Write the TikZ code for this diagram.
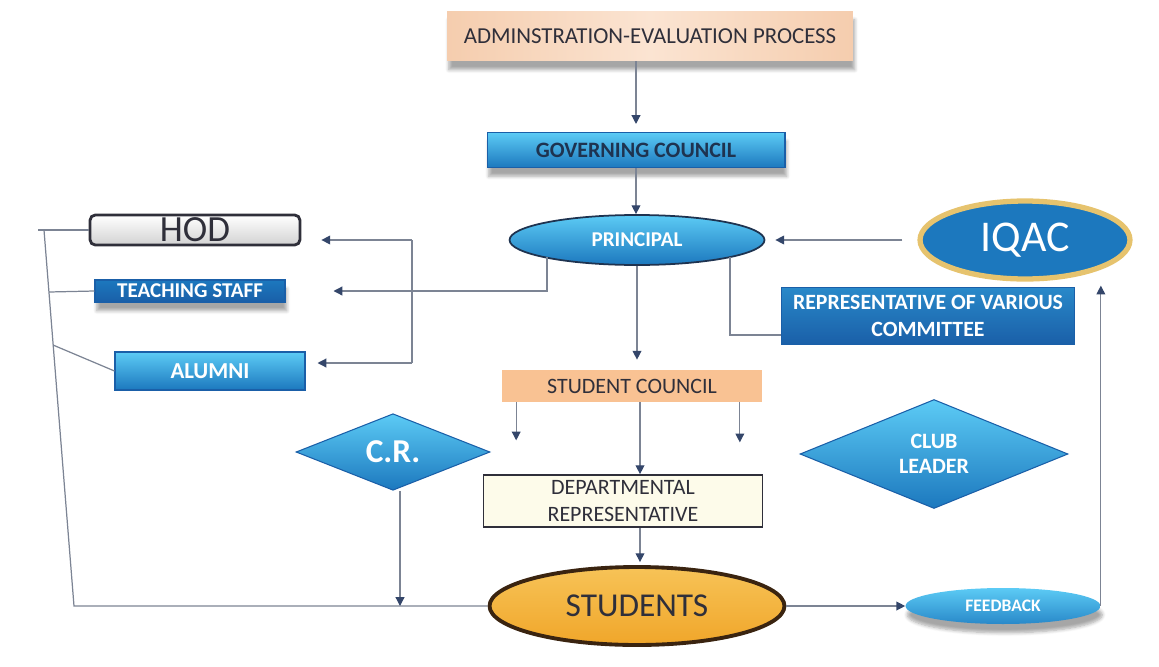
\documentclass[tikz,border=0pt]{standalone}
\usepackage{fontspec}
\setmainfont{Carlito}
\usetikzlibrary{shapes.geometric,arrows.meta,calc,shadows.blur}
\definecolor{peach}{HTML}{FBE4D2}
\definecolor{peachd}{HTML}{F5CDAE}
\definecolor{scorange}{HTML}{F9C293}
\definecolor{bluel}{HTML}{5CCBF5}
\definecolor{blued}{HTML}{1C78BE}
\definecolor{bluedd}{HTML}{1A5FA8}
\definecolor{navy}{HTML}{1E3350}
\definecolor{txtd}{HTML}{2F2F3A}
\definecolor{gold}{HTML}{E6C36E}
\definecolor{orng}{HTML}{F0A62A}
\definecolor{orngl}{HTML}{F7C357}
\definecolor{brownd}{HTML}{3A2410}
\definecolor{cream}{HTML}{FDFBEA}
\definecolor{linec}{HTML}{7C8494}
\definecolor{arrc}{HTML}{34466A}
\tikzset{
  x=0.02cm, y=-0.02cm,
  bshadow/.style={blur shadow={shadow xshift=1pt, shadow yshift=-5pt, shadow blur steps=6, shadow opacity=35}},
  bluebox/.style={rectangle, draw=bluedd, line width=0.6pt, top color=bluel, bottom color=blued, text=white, align=center, inner sep=1pt},
  blueell/.style={ellipse, draw=navy, line width=1pt, top color=bluel, bottom color=blued, text=white, inner sep=0pt},
  bluedia/.style={diamond, draw=bluedd, line width=0.6pt, top color=bluel, bottom color=blued, text=white, align=center, inner sep=0pt},
  conn/.style={draw=linec, line width=0.7pt},
  arr/.style={conn, -{Triangle[length=5pt,width=5pt,fill=arrc,color=arrc]}},
}
\begin{document}
\begin{tikzpicture}
\useasboundingbox (0,0) rectangle (1159,666);
% nodes
\node[rectangle, left color=peachd, right color=peachd, middle color=peach, bshadow, minimum width=8.12cm, minimum height=1.0cm, text=txtd, font=\fontsize{13}{15}\selectfont] (admin) at (650,36) {ADMINSTRATION-EVALUATION PROCESS};
\node[bluebox, bshadow, text=navy, minimum width=5.96cm, minimum height=0.7cm, font=\bfseries\fontsize{12.5}{14}\selectfont] (gov) at (636,150) {GOVERNING COUNCIL};
\node[blueell, minimum width=5.1cm, minimum height=1.0cm, font=\bfseries\fontsize{12}{13}\selectfont] (principal) at (637,240) {PRINCIPAL};
\node[ellipse, draw=gold, line width=3pt, fill=blued, text=white, minimum width=4.2cm, minimum height=1.56cm, font=\fontsize{25}{28}\selectfont] (iqac) at (1025,240) {IQAC};
\node[rectangle, rounded corners=3pt, draw=txtd, line width=1.6pt, top color=white, bottom color=gray!35, minimum width=4.2cm, minimum height=0.6cm, inner sep=0pt, text=txtd, font=\fontsize{21}{21}\selectfont] (hod) at (195,230) {HOD};
\node[bluebox, bshadow, top color=blued, bottom color=bluedd, minimum width=3.8cm, minimum height=0.44cm, font=\bfseries\fontsize{12}{13}\selectfont] (teach) at (190,291) {TEACHING STAFF};
\node[bluebox, minimum width=3.8cm, minimum height=0.76cm, font=\bfseries\fontsize{13}{14}\selectfont] (alumni) at (210,371) {ALUMNI};
\node[bluebox, top color=blued!80!bluel, bottom color=bluedd, minimum width=5.86cm, minimum height=1.14cm, font=\bfseries\fontsize{12.4}{15}\selectfont] (repr) at (928,316) {REPRESENTATIVE OF VARIOUS\\COMMITTEE};
\node[rectangle, fill=scorange, minimum width=5.22cm, minimum height=0.64cm, text=txtd, font=\fontsize{12.5}{14}\selectfont] (scouncil) at (632,386) {STUDENT COUNCIL};
\node[bluedia, minimum width=3.88cm, minimum height=1.34cm, font=\bfseries\fontsize{19}{20}\selectfont] (cr) at (393,452) {C.R.};
\node[bluedia, minimum width=5.36cm, minimum height=1.36cm, font=\bfseries\fontsize{12.5}{14}\selectfont] (club) at (934,454) {CLUB\\LEADER};
\node[rectangle, draw=txtd, line width=0.8pt, fill=cream, minimum width=5.58cm, minimum height=0.96cm, align=center, text=txtd, font=\fontsize{12.5}{15}\selectfont] (dept) at (623,501) {DEPARTMENTAL\\REPRESENTATIVE};
\node[ellipse, draw=brownd, line width=2.2pt, top color=orngl, bottom color=orng, minimum width=5.9cm, minimum height=1.56cm, text=txtd, font=\fontsize{19}{20}\selectfont] (students) at (637,606) {STUDENTS};
\node[ellipse, bshadow, top color=bluel, bottom color=blued!80!bluel, minimum width=3.9cm, minimum height=0.72cm, inner sep=0pt, text=white, font=\bfseries\fontsize{10}{11}\selectfont] (feedback) at (1003,606) {FEEDBACK};
% connectors
\draw[arr, shorten >=0.16cm] (gov.north |- admin.south) -- (gov.north);
\draw[arr] (gov.south) -- (gov.south |- principal.north);
\draw[arr, shorten <=0.3cm, shorten >=0.2cm] (iqac.west) -- (principal.east);
\draw[arr, shorten >=0.96cm] ($(principal.center)+(-90,17)$) |- (teach.east);
\coordinate (bt) at (412,240);
\coordinate (bb) at (412,363);
\draw[conn] (bt) -- (bb);
\draw[arr, shorten >=0.4cm] (bt) -- (bt -| hod.east);
\draw[arr, shorten >=0.24cm] (bb) -- (bb -| alumni.east);
\coordinate (lt) at (44,230);
\coordinate (lb) at (74,606);
\coordinate (lteach) at (49,292);
\coordinate (lalum) at (53,345);
\draw[conn] (38,230) -- (hod.west);
\draw[conn] (lt) -- (lb) -- (students.west);
\draw[conn] (lteach) -- (teach.west);
\draw[conn] (lalum) -- (alumni.west);
\draw[conn] ($(principal.center)+(93,17)$) |- ($(repr.south west)+(0,-10)$);
\draw[arr, shorten >=0.2cm] (principal.south) -- (principal.south |- scouncil.north);
\draw[arr] ($(scouncil.south west)+(15,0)$) -- ++(0,38);
\draw[arr] ($(scouncil.south east)+(-23,0)$) -- ++(0,40);
\draw[arr] (scouncil.south -| 640,0) -- (dept.north -| 640,0);
\draw[arr, shorten >=0.06cm] (dept.south -| 640,0) -- (students.north -| 640,0);
\coordinate (crb) at ($(cr.south)+(7,0)$);
\draw[arr] (crb) -- (crb |- lb);
\draw[arr] (students.east) -- (feedback.west);
\draw[arr, shorten >=0.08cm] (feedback.east) -- (feedback.east |- iqac.south);
\end{tikzpicture}
\end{document}
